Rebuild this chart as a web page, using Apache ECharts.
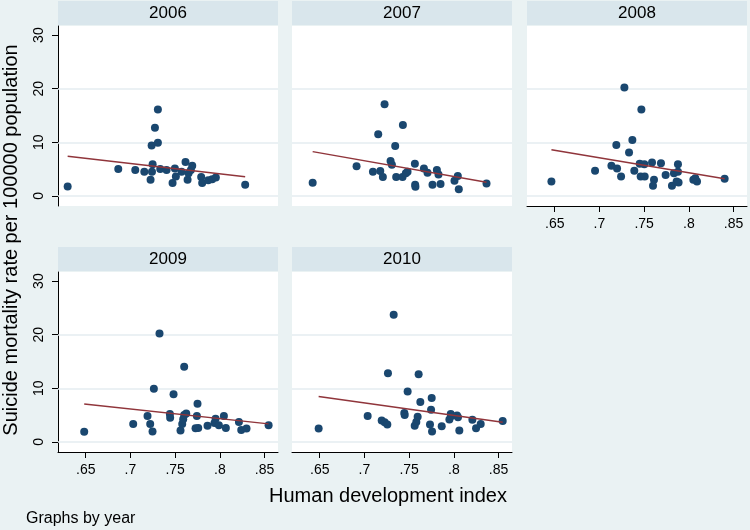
<!DOCTYPE html>
<html>
<head>
<meta charset="utf-8">
<script src="https://cdn.jsdelivr.net/npm/echarts@6/dist/echarts.min.js"></script>
<style>
html,body{margin:0;padding:0;background:#eaf2f3;}
#c{width:750px;height:530px;}
</style>
</head>
<body>
<div id="c"></div>
<script>
// ---- data ----
const years = ['2006', '2007', '2008', '2009', '2010'];
const xTicks = [0.65, 0.7, 0.75, 0.8, 0.85];
const yTicks = [0, 10, 20, 30];
const gridValues = [0, 10, 20];

const hdi2006 = [.6298,.6864,.7054,.7155,.7225,.7237,.7248,.7241,.7274,.7307,.7307,.7333,.7404,.7497,.7471,.7508,.7616,.7639,.765,.7676,.7691,.7572,.7791,.7802,.787,.7914,.7955,.8283];
const rate2006 = [1.74,5.0,4.8,4.5,3.0,9.4,5.9,4.5,12.7,16.1,9.9,5.0,4.8,5.1,2.4,3.6,6.3,3.0,4.2,4.8,5.6,4.5,3.5,2.4,2.9,3.1,3.4,2.05];

const hdi2007 = [.6421,.6912,.7095,.7177,.7206,.7154,.7225,.7292,.7307,.7344,.7355,.743,.7426,.7463,.7482,.7564,.7567,.757,.7665,.7705,.7761,.781,.7828,.7851,.8007,.8044,.8055,.8365];
const rate2007 = [2.42,5.5,4.5,4.65,3.5,11.5,17.1,6.5,5.8,9.3,3.5,13.2,3.5,4.2,4.5,6.0,2.05,1.7,5.1,4.3,2.05,4.8,4.0,2.2,2.8,3.7,1.25,2.3];

const hdi2008 = [.6463,.6951,.7134,.7197,.7189,.7242,.7279,.7331,.7368,.739,.745,.7469,.7461,.7502,.7506,.7588,.761,.7599,.7688,.774,.7811,.7833,.7863,.7878,.7878,.7885,.805,.8091,.8072,.84];
const rate2008 = [2.66,4.7,5.6,5.1,9.5,3.6,20.2,8.1,10.4,4.7,6.0,16.1,3.6,5.9,3.6,6.2,3.0,1.9,6.1,3.9,1.9,4.2,2.66,5.9,4.5,2.5,3.0,2.66,3.3,3.2];

const hdi2009 = [.6483,.7031,.7191,.7221,.7247,.7262,.7325,.7441,.7444,.7482,.756,.7579,.759,.7601,.7601,.7624,.7743,.775,.7728,.7758,.7862,.7952,.794,.7989,.8045,.8067,.8213,.8239,.8298,.8545];
const rate2009 = [1.86,3.35,4.84,3.35,1.93,9.9,20.2,5.2,4.5,8.9,2.1,3.35,4.2,14.0,5.0,5.3,4.8,7.1,2.55,2.6,3.0,4.3,3.5,3.1,4.8,2.6,3.7,2.2,2.5,3.1];

const hdi2010 = [.6488,.7036,.7193,.7226,.7256,.7263,.7327,.7446,.745,.7483,.7562,.758,.7595,.7606,.7625,.7733,.7752,.7745,.7756,.7864,.795,.7965,.7972,.8035,.8061,.8046,.8207,.8248,.83,.8546];
const rate2010 = [2.48,4.84,4.0,3.66,3.23,12.8,23.7,5.4,5.0,9.4,3.0,3.7,4.66,12.6,7.45,3.23,8.2,6.0,1.93,2.9,4.16,5.2,4.8,4.9,2.1,4.6,4.1,2.55,3.35,3.9];

// fitted line endpoints [hdi, rate]
const fit2006 = [[.6298, 7.40], [.8283, 3.54]];
const fit2007 = [[.6421, 8.25], [.8365, 2.55]];
const fit2008 = [[.6463, 8.60], [.8400, 3.17]];
const fit2009 = [[.6483, 7.08], [.8545, 3.35]];
const fit2010 = [[.6488, 8.45], [.8546, 3.66]];

const hdi = [hdi2006, hdi2007, hdi2008, hdi2009, hdi2010];
const rate = [rate2006, rate2007, rate2008, rate2009, rate2010];
const fits = [fit2006, fit2007, fit2008, fit2009, fit2010];

// ---- layout / style ----
const FONT = 'Liberation Sans, Arial, Helvetica, sans-serif';
const BG = '#eaf2f3';
const STRIP = '#d9e6ec';
const NAVY = '#1a476f';
const MAROON = '#90353b';
const GRIDC = '#e4edf0';
const lefts = [58, 292, 527, 58, 292];
const tops = [26, 26, 26, 272, 272];
const W = 220, H = 180;
const showY = [true, false, false, true, false];
const showX = [false, false, true, true, true];

const grids = [], xAxes = [], yAxes = [], series = [], graphics = [];
years.forEach((yr, i) => {
  grids.push({left: lefts[i], top: tops[i], width: W, height: H, show: true,
    backgroundColor: '#ffffff', borderWidth: 0, containLabel: false});
  xAxes.push({
    gridIndex: i, type: 'value', min: 0.619, max: 0.865,
    axisLine: {show: showX[i], onZero: false, lineStyle: {color: '#000', width: 1}},
    axisTick: {show: showX[i], length: 6, customValues: xTicks, lineStyle: {color: '#000', width: 1}},
    axisLabel: {show: showX[i], customValues: xTicks, fontSize: 14, fontFamily: FONT, color: '#000', margin: 11,
      formatter: v => String(+v.toFixed(2)).replace(/^0/, '')},
    splitLine: {show: false}
  });
  yAxes.push({
    gridIndex: i, type: 'value', min: -1.9, max: 31.7,
    axisLine: {show: showY[i], onZero: false, lineStyle: {color: '#000', width: 1}},
    axisTick: {show: showY[i], length: 6, customValues: yTicks, lineStyle: {color: '#000', width: 1}},
    axisLabel: {show: showY[i], customValues: yTicks, rotate: 90, fontSize: 14, fontFamily: FONT, color: '#000', margin: 12},
    splitLine: {show: false}
  });
  series.push({
    type: 'scatter', xAxisIndex: i, yAxisIndex: i, data: [], z: 1, silent: true,
    markLine: {silent: true, symbol: 'none', z: 1, label: {show: false},
      lineStyle: {color: GRIDC, width: 1.5, type: 'solid'},
      data: gridValues.map(v => ({yAxis: v}))}
  });
  series.push({
    type: 'scatter', xAxisIndex: i, yAxisIndex: i, z: 3,
    symbol: 'circle', symbolSize: 8,
    itemStyle: {color: NAVY, opacity: 1},
    data: hdi[i].map((x, k) => [x, rate[i][k]])
  });
  series.push({
    type: 'line', xAxisIndex: i, yAxisIndex: i, z: 4,
    symbol: 'none', lineStyle: {color: MAROON, width: 1.5},
    data: fits[i]
  });
  graphics.push({type: 'rect', shape: {x: lefts[i], y: tops[i] - 25, width: W, height: 24},
    style: {fill: STRIP}, silent: true});
  graphics.push({type: 'text', x: lefts[i] + W / 2, y: tops[i] - 13,
    style: {text: yr, fill: '#000', font: '17px ' + FONT, textAlign: 'center', textVerticalAlign: 'middle'}});
});

graphics.push({type: 'text', x: 11, y: 240, rotation: Math.PI / 2,
  style: {text: 'Suicide mortality rate per 100000 population', fill: '#000', font: '20px ' + FONT,
    textAlign: 'center', textVerticalAlign: 'middle'}});
graphics.push({type: 'text', x: 388, y: 496,
  style: {text: 'Human development index', fill: '#000', font: '20px ' + FONT,
    textAlign: 'center', textVerticalAlign: 'middle'}});
graphics.push({type: 'text', x: 26, y: 519,
  style: {text: 'Graphs by year', fill: '#000', font: '16px ' + FONT,
    textAlign: 'left', textVerticalAlign: 'middle'}});

const chart = echarts.init(document.getElementById('c'), null, {renderer: 'canvas'});
chart.setOption({
  backgroundColor: BG,
  animation: false,
  grid: grids, xAxis: xAxes, yAxis: yAxes, series: series,
  graphic: graphics
});
</script>
</body>
</html>
